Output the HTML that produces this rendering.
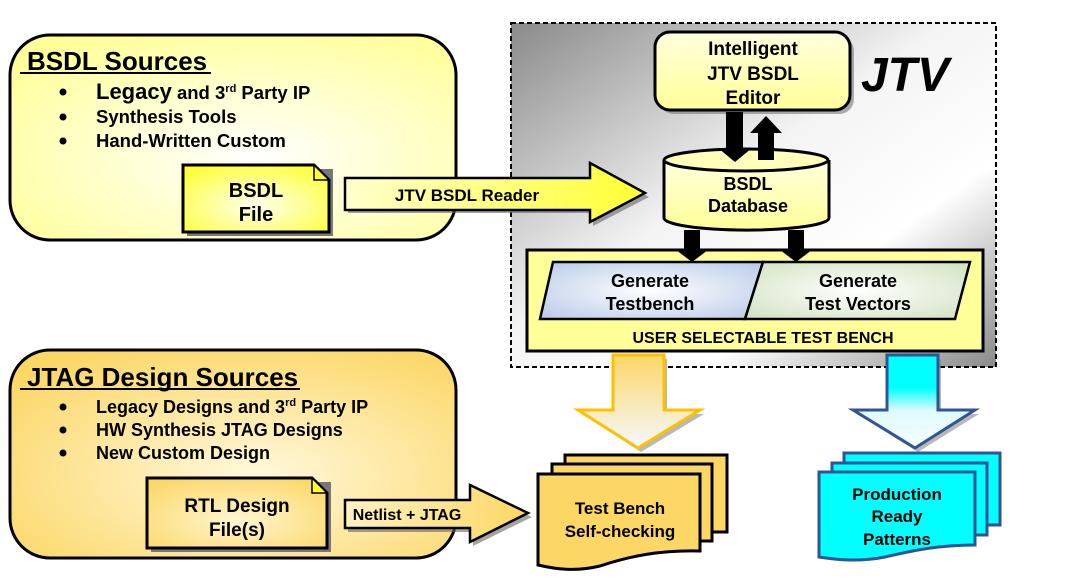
<!DOCTYPE html>
<html><head><meta charset="utf-8"><style>html,body{margin:0;padding:0;background:#fff}svg{display:block}text{font-family:"Liberation Sans",sans-serif;font-weight:bold;fill:#000}</style></head>
<body>
<svg width="1074" height="588" viewBox="0 0 1074 588" xmlns="http://www.w3.org/2000/svg">
<defs>
<radialGradient id="gy" cx="0.55" cy="0.6" r="0.7"><stop offset="0" stop-color="#ffffff"/><stop offset="1" stop-color="#ffff99"/></radialGradient>
<radialGradient id="go" cx="0.55" cy="0.6" r="0.7"><stop offset="0" stop-color="#fff8dc"/><stop offset="1" stop-color="#fcd766"/></radialGradient>
<radialGradient id="gf" cx="0.5" cy="0.6" r="0.7"><stop offset="0" stop-color="#ffffee"/><stop offset="1" stop-color="#ffff33"/></radialGradient>
<radialGradient id="gfo" cx="0.5" cy="0.6" r="0.7"><stop offset="0" stop-color="#fff6d0"/><stop offset="1" stop-color="#fcd766"/></radialGradient>
<linearGradient id="gg" x1="0" y1="0" x2="1" y2="1"><stop offset="0" stop-color="#8a8a8a"/><stop offset="0.45" stop-color="#f4f4f4"/><stop offset="0.7" stop-color="#ffffff"/><stop offset="1" stop-color="#8a8a8a"/></linearGradient>
<linearGradient id="ga" x1="0" y1="0" x2="1" y2="0"><stop offset="0" stop-color="#ffffcc"/><stop offset="1" stop-color="#ffff33"/></linearGradient>
<linearGradient id="gna" x1="0" y1="0" x2="1" y2="0"><stop offset="0" stop-color="#fff2c0"/><stop offset="1" stop-color="#fcd766"/></linearGradient>
<radialGradient id="gb" cx="0.5" cy="0.5" r="0.7"><stop offset="0" stop-color="#ffffff"/><stop offset="1" stop-color="#b8c9e8"/></radialGradient>
<radialGradient id="ggr" cx="0.5" cy="0.5" r="0.7"><stop offset="0" stop-color="#ffffff"/><stop offset="1" stop-color="#cfe2c0"/></radialGradient>
<linearGradient id="gdo" x1="0" y1="0" x2="0" y2="1"><stop offset="0" stop-color="#fcd766"/><stop offset="1" stop-color="#f5f8ff"/></linearGradient>
<linearGradient id="gdc" x1="0" y1="0" x2="0" y2="1"><stop offset="0" stop-color="#00ffff"/><stop offset="0.35" stop-color="#00ffff"/><stop offset="0.6" stop-color="#e0faff"/><stop offset="1" stop-color="#f5ffff"/></linearGradient>
<linearGradient id="gcy" x1="0" y1="0" x2="0" y2="1"><stop offset="0" stop-color="#ffffdd"/><stop offset="1" stop-color="#ffff99"/></linearGradient>
</defs>

<!-- BSDL Sources -->
<rect x="10" y="35" width="446" height="205" rx="40" fill="url(#gy)" stroke="#000" stroke-width="3"/>
<text x="27" y="70" font-size="26">BSDL Sources</text>
<line x1="20" y1="73" x2="211" y2="73" stroke="#000" stroke-width="2"/>
<g font-size="18.5"><circle cx="63" cy="92" r="3.5"/><circle cx="63" cy="117" r="3.5"/><circle cx="63" cy="141" r="3.5"/>
<text x="96" y="99"><tspan font-size="22">Legacy</tspan> and 3<tspan font-size="11" dy="-7">rd</tspan><tspan dy="7"> Party IP</tspan></text>
<text x="96" y="123">Synthesis Tools</text>
<text x="96" y="147">Hand-Written Custom</text></g>
<rect x="187" y="169" width="146" height="67" fill="#777"/>
<path d="M183 165 H314 L329 180 V232 H183 Z" fill="url(#gf)" stroke="#000" stroke-width="3"/>
<path d="M314 165 V180 H329 Z" fill="#ffff33" stroke="#000" stroke-width="1.5"/>
<text x="256" y="197" font-size="20" text-anchor="middle">BSDL</text>
<text x="256" y="221" font-size="20" text-anchor="middle">File</text>

<!-- JTV region -->
<rect x="511" y="23" width="485" height="344" fill="url(#gg)" stroke="#000" stroke-width="2" stroke-dasharray="5,3"/>
<text x="905" y="91" font-size="48" font-style="italic" text-anchor="middle">JTV</text>

<!-- JTV reader arrow -->
<path d="M348 182 H593 V166 L649 197 L593 226 V213 H348 Z" fill="#666" opacity="0.6"/>
<path d="M345 178 H590 V163 L645 193 L590 222 V210 H345 Z" fill="url(#ga)" stroke="#000" stroke-width="2.5"/>
<text x="467" y="201" font-size="17" text-anchor="middle">JTV BSDL Reader</text>

<rect x="659" y="36" width="195" height="78" rx="15" fill="#777" opacity="0.6"/>
<rect x="655" y="32" width="195" height="78" rx="15" fill="url(#gcy)" stroke="#000" stroke-width="3"/>
<text x="753" y="55" font-size="19" text-anchor="middle">Intelligent</text>
<text x="753" y="80" font-size="19" text-anchor="middle">JTV BSDL</text>
<text x="753" y="104" font-size="19" text-anchor="middle">Editor</text>

<!-- cylinder -->
<path d="M664 160 V218 A82 12 0 0 0 829 218 V160" fill="url(#gcy)" stroke="#000" stroke-width="3"/>
<ellipse cx="746" cy="160" rx="82" ry="11" fill="#ffffbb" stroke="#000" stroke-width="3"/>
<text x="748" y="190" font-size="18" text-anchor="middle">BSDL</text>
<text x="748" y="212" font-size="18" text-anchor="middle">Database</text>

<path d="M726 112 H743 V148 H752 L735 162 L718 148 H726 Z" fill="#000"/>
<path d="M758 160 V133 H750 L766 116 L782 133 H774 V160 Z" fill="#000"/>

<!-- panel -->
<rect x="527" y="250" width="456" height="101" fill="#ffff99" stroke="#000" stroke-width="3"/>
<path d="M553 262 L763 262 L745 319 L540 319 Z" fill="url(#gb)" stroke="#000" stroke-width="2.5"/>
<path d="M763 262 L970 262 L955 319 L745 319 Z" fill="url(#ggr)" stroke="#000" stroke-width="2.5"/>
<text x="650" y="287" font-size="18" text-anchor="middle">Generate</text>
<text x="650" y="310" font-size="18" text-anchor="middle">Testbench</text>
<text x="858" y="287" font-size="18" text-anchor="middle">Generate</text>
<text x="858" y="310" font-size="18" text-anchor="middle">Test Vectors</text>
<text x="763" y="343" font-size="16" text-anchor="middle">USER SELECTABLE TEST BENCH</text>

<path d="M684 230 H700 V250 H708 L692 262 L676 250 H684 Z" fill="#000"/>
<path d="M788 230 H804 V250 H812 L796 262 L780 250 H788 Z" fill="#000"/>

<!-- down arrows -->
<path d="M617 359 H667 V414 H704 L641 452 L582 414 H617 Z" fill="#888" opacity="0.6"/>
<path d="M613 355 H664 V410 H700 L638 448 L578 410 H613 Z" fill="url(#gdo)" stroke="#ffc000" stroke-width="3"/>
<path d="M891 359 H941 V414 H979 L918 452 L857 414 H891 Z" fill="#888" opacity="0.6"/>
<path d="M887 355 H938 V410 H975 L915 448 L853 410 H887 Z" fill="url(#gdc)" stroke="#2f5597" stroke-width="3"/>

<!-- Test bench docs -->
<rect x="565" y="455" width="162" height="77" fill="#fcd766" stroke="#000" stroke-width="3"/>
<rect x="552" y="464" width="160" height="77" fill="#fcd766" stroke="#000" stroke-width="3"/>
<path d="M538 474 H700 V551 C660 550 630 556 600 566 C575 572 555 569 538 565 Z" fill="#fcd766" stroke="#000" stroke-width="3"/>
<text x="620" y="514" font-size="17" text-anchor="middle">Test Bench</text>
<text x="620" y="537" font-size="17" text-anchor="middle">Self-checking</text>

<!-- Production docs -->
<rect x="844" y="453" width="156" height="72" fill="#00ffff" stroke="#2f5597" stroke-width="3"/>
<rect x="832" y="463" width="155" height="72" fill="#00ffff" stroke="#2f5597" stroke-width="3"/>
<path d="M819 472 H975 V545 C940 545 915 550 885 557 C860 562 838 560 819 557 Z" fill="#00ffff" stroke="#2f5597" stroke-width="3"/>
<text x="897" y="500" font-size="17" text-anchor="middle">Production</text>
<text x="897" y="522" font-size="17" text-anchor="middle">Ready</text>
<text x="897" y="545" font-size="17" text-anchor="middle">Patterns</text>

<!-- JTAG Design Sources -->
<rect x="10" y="350" width="446" height="208" rx="40" fill="url(#go)" stroke="#000" stroke-width="3"/>
<text x="27" y="386" font-size="26">JTAG Design Sources</text>
<line x1="20" y1="389" x2="300" y2="389" stroke="#000" stroke-width="2"/>
<g font-size="18"><circle cx="63" cy="407" r="3.5"/><circle cx="63" cy="430" r="3.5"/><circle cx="63" cy="453" r="3.5"/>
<text x="96" y="413">Legacy Designs and 3<tspan font-size="11" dy="-7">rd</tspan><tspan dy="7"> Party IP</tspan></text>
<text x="96" y="436">HW Synthesis JTAG Designs</text>
<text x="96" y="459">New Custom Design</text></g>
<rect x="151" y="482" width="180" height="70" fill="#777"/>
<path d="M147 478 H312 L327 493 V548 H147 Z" fill="url(#gfo)" stroke="#000" stroke-width="3"/>
<path d="M312 478 V493 H327 Z" fill="#ffff33" stroke="#000" stroke-width="1.5"/>
<text x="237" y="512" font-size="19" text-anchor="middle">RTL Design</text>
<text x="237" y="536" font-size="19" text-anchor="middle">File(s)</text>

<path d="M348 504 H473 V489 L532 517 L473 546 V532 H348 Z" fill="#666" opacity="0.6"/>
<path d="M345 500 H470 V485 L528 513 L470 542 V528 H345 Z" fill="url(#gna)" stroke="#000" stroke-width="2.5"/>
<text x="407" y="520" font-size="16" text-anchor="middle">Netlist + JTAG</text>
</svg>
</body></html>
